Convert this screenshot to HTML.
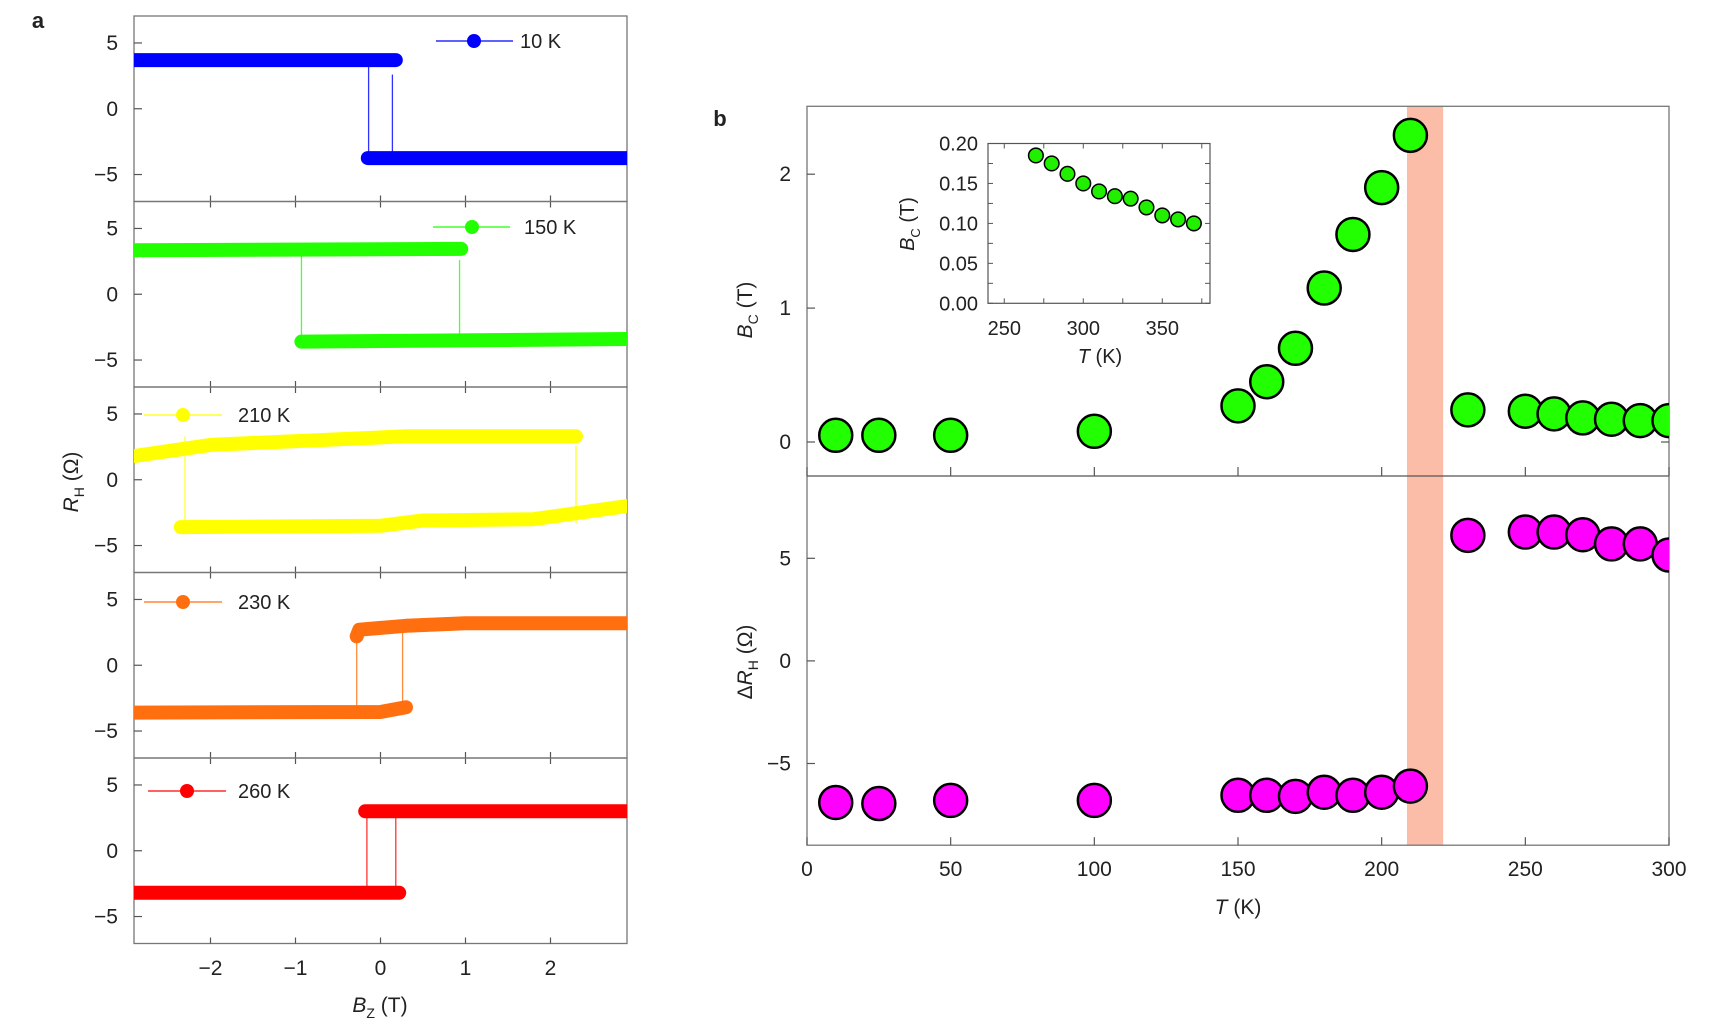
<!DOCTYPE html>
<html><head><meta charset="utf-8"><style>
html,body{margin:0;padding:0;background:#fff}
svg{display:block;font-family:"Liberation Sans",sans-serif}
</style></head><body>
<svg id="fig" width="1716" height="1020" viewBox="0 0 1716 1020" xmlns="http://www.w3.org/2000/svg"></svg>
<script>
// ---------- Panel a data ----------
const panelTemps = ["10 K","150 K","210 K","230 K","260 K"];
const panelColors = ["#0000ff","#22ff00","#ffff00","#ff6f0f","#ff0000"];
const upperBranchB = [[-2.9,0.18],[-2.9,0.95],[-2.9,-2.0,0.3,2.3],[-0.28,-0.25,0.3,1.0,2.9],[-0.18,2.9]];
const upperBranchR = [[3.7,3.7],[3.35,3.45],[1.8,2.65,3.3,3.3],[2.2,2.7,3.0,3.2,3.2],[3.0,3.0]];
const lowerBranchB = [[-0.15,2.9],[-0.93,2.9],[-2.35,0.0,0.5,1.8,2.9],[-2.9,0.0,0.3],[-2.9,0.22]];
const lowerBranchR = [[-3.75,-3.75],[-3.6,-3.4],[-3.6,-3.5,-3.1,-3.0,-2.0],[-3.6,-3.55,-3.2],[-3.2,-3.2]];
const switchFields = [[-0.14,0.14],[-0.93,0.93],[-2.3,2.3],[-0.28,0.26],[-0.16,0.18]];
const aTicksX = [-2,-1,0,1,2];
const aTicksY = [-5,0,5];

// ---------- Panel b data ----------
const bTemps = [10,25,50,100,150,160,170,180,190,200,210,230,250,260,270,280,290,300];
const bcValues = [0.05,0.05,0.05,0.08,0.27,0.45,0.70,1.15,1.55,1.90,2.29,0.24,0.23,0.21,0.18,0.17,0.16,0.16];
const dRhValues = [-6.9,-6.95,-6.8,-6.8,-6.55,-6.55,-6.6,-6.4,-6.55,-6.4,-6.1,6.12,6.28,6.28,6.15,5.7,5.7,5.16];
const bTicksX = [0,50,100,150,200,250,300];
const bcTicks = [0,1,2];
const dRhTicks = [-5,0,5];
const bandRange = [208.8,221.4];

// ---------- Inset data ----------
const insetTemps = [270,280,290,300,310,320,330,340,350,360,370];
const insetBc = [0.185,0.175,0.162,0.150,0.140,0.134,0.131,0.120,0.110,0.105,0.100];
const insetTicksX = [250,300,350];
const insetTicksY = ["0.00","0.05","0.10","0.15","0.20"];

const NS="http://www.w3.org/2000/svg";
const svg=document.getElementById('fig');
function mk(tag,attrs,parent){const e=document.createElementNS(NS,tag);for(const k in attrs)e.setAttribute(k,attrs[k]);(parent||svg).appendChild(e);return e;}
function txt(s,x,y,size,anchor,parent){const t=mk('text',{x:x,y:y,'font-size':size,'text-anchor':anchor||'middle',fill:'#222'},parent);t.textContent=s;return t;}

const bL=807,bR=1669,bTop=106.3,bMid=476,bBot=845.2;

const defs=mk('defs',{});
const cpA=mk('clipPath',{id:'clipA'},defs);mk('rect',{x:134,y:0,width:493,height:1020},cpA);
const cpB=mk('clipPath',{id:'clipB'},defs);mk('rect',{x:bL,y:bTop,width:bR-bL,height:bBot-bTop},cpB);

// ---------- Panel a ----------
const aL=134,aR=627,aTop=16,aH=185.5;
const xA=b=>aL+(b+2.9)/5.8*(aR-aL);
let lab=txt('a',38,28,22,'middle');lab.setAttribute('font-weight','bold');


for(let p=0;p<5;p++){
  const top=aTop+p*aH,bot=top+aH;
  const yA=v=>top+aH/2-v*(aH/2)/7.05;
  const g=mk('g',{});
  
  
  mk('rect',{x:aL,y:top,width:aR-aL,height:aH,fill:'none',stroke:'#777','stroke-width':1.3},g);
  aTicksY.forEach(v=>{mk('line',{x1:aL,x2:aL+8,y1:yA(v),y2:yA(v),stroke:'#555','stroke-width':1.2},g);
    txt(v<0?'\u2212'+(-v):String(v),aL-16,yA(v)+7,21,'end',g);});
  aTicksX.forEach(v=>{mk('line',{x1:xA(v),x2:xA(v),y1:bot-6,y2:bot+(p<4?6:0),stroke:'#555','stroke-width':1.2},g);});
  const cg=mk('g',{'clip-path':'url(#clipA)'},g);
  switchFields[p].forEach((b,i)=>{
    const u=mk('line',{x1:xA(b),x2:xA(b),y1:yA(i==0&&p!=3?3.3:2.6),y2:yA(-3.3),stroke:panelColors[p],'stroke-width':1.3,opacity:0.8},cg);
    
    
  });
  const mkPath=(B,R)=>B.map((b,i)=>(i?'L':'M')+xA(b).toFixed(1)+' '+yA(R[i]).toFixed(1)).join(' ');
  const up=mk('path',{d:mkPath(upperBranchB[p],upperBranchR[p]),fill:'none',stroke:panelColors[p],'stroke-width':14,'stroke-linecap':'round','stroke-linejoin':'round'},cg);
  
  
  const lo=mk('path',{d:mkPath(lowerBranchB[p],lowerBranchR[p]),fill:'none',stroke:panelColors[p],'stroke-width':14,'stroke-linecap':'round','stroke-linejoin':'round'},cg);
  
  
  const legX=[[436,513,474,520],[433,510,472,524],[144,222,183,238],[144,222,183,238],[148,226,187,238]][p];
  const legY=[41,227,415,602,791][p];
  const lg=mk('g',{},g);
  
  
  mk('line',{x1:legX[0],x2:legX[1],y1:legY,y2:legY,stroke:panelColors[p],'stroke-width':1.3},lg);
  mk('circle',{cx:legX[2],cy:legY,r:7,fill:panelColors[p]},lg);
  txt(panelTemps[p],legX[3],legY+7,20,'start',lg);
}
aTicksX.forEach(v=>{const t=txt(v<0?'\u2212'+(-v):String(v),xA(v),975,21,'middle');
  
  });
let t=mk('text',{x:380,y:1012,'font-size':21,'text-anchor':'middle',fill:'#222'});
t.innerHTML='<tspan font-style="italic">B</tspan><tspan font-size="14" dy="6">Z</tspan><tspan dy="-6"> (T)</tspan>';


t=mk('text',{x:0,y:0,'font-size':21,'text-anchor':'middle',fill:'#222',transform:'translate(78,482) rotate(-90)'});
t.innerHTML='<tspan font-style="italic">R</tspan><tspan font-size="14" dy="6">H</tspan><tspan dy="-6"> (\u03A9)</tspan>';



// ---------- Panel b ----------
const xB=T=>bL+T/300*(bR-bL);
const yU=v=>442-v*133.9;
const yD=v=>660.9-v*20.52;
lab=txt('b',720,126,22,'middle');lab.setAttribute('font-weight','bold');


const band=mk('rect',{x:xB(bandRange[0]),y:bTop,width:xB(bandRange[1])-xB(bandRange[0]),height:bBot-bTop,fill:'#fbbca8'});


mk('rect',{x:bL,y:bTop,width:bR-bL,height:bBot-bTop,fill:'none',stroke:'#777','stroke-width':1.3});
mk('line',{x1:bL,x2:bR,y1:bMid,y2:bMid,stroke:'#555','stroke-width':1.3});
bTicksX.forEach(v=>{
  mk('line',{x1:xB(v),x2:xB(v),y1:bBot-8,y2:bBot,stroke:'#555','stroke-width':1.2});
  mk('line',{x1:xB(v),x2:xB(v),y1:bMid-9,y2:bMid,stroke:'#555','stroke-width':1.2});
  const l=txt(String(v),xB(v),876,21,'middle');
  
  
});
bcTicks.forEach(v=>{mk('line',{x1:bL,x2:bL+8,y1:yU(v),y2:yU(v),stroke:'#555','stroke-width':1.2});txt(String(v),bL-16,yU(v)+7,21,'end');});
mk('line',{x1:bR-8,x2:bR,y1:yU(0),y2:yU(0),stroke:'#555','stroke-width':1.2});
dRhTicks.forEach(v=>{mk('line',{x1:bL,x2:bL+8,y1:yD(v),y2:yD(v),stroke:'#555','stroke-width':1.2});txt(v<0?'\u2212'+(-v):String(v),bL-16,yD(v)+7,21,'end');});
const mg=mk('g',{'clip-path':'url(#clipB)'});
bTemps.forEach((T,i)=>{
  const c=mk('circle',{cx:xB(T),cy:yU(bcValues[i]),r:16.5,fill:'#22ff00',stroke:'#000','stroke-width':2.5},mg);
  
  
});
bTemps.forEach((T,i)=>{
  const c=mk('circle',{cx:xB(T),cy:yD(dRhValues[i]),r:16.5,fill:'#ff00ff',stroke:'#000','stroke-width':2.5},mg);
  
  
});
t=mk('text',{x:xB(150),y:914,'font-size':21,'text-anchor':'middle',fill:'#222'});
t.innerHTML='<tspan font-style="italic">T</tspan> (K)';


t=mk('text',{x:0,y:0,'font-size':21,'text-anchor':'middle',fill:'#222',transform:'translate(752,310) rotate(-90)'});
t.innerHTML='<tspan font-style="italic">B</tspan><tspan font-size="14" dy="6">C</tspan><tspan dy="-6"> (T)</tspan>';


t=mk('text',{x:0,y:0,'font-size':21,'text-anchor':'middle',fill:'#222',transform:'translate(752,662) rotate(-90)'});
t.innerHTML='\u0394<tspan font-style="italic">R</tspan><tspan font-size="14" dy="6">H</tspan><tspan dy="-6"> (\u03A9)</tspan>';



// ---------- Inset ----------
const iL=988,iR=1210,iT=143.5,iB=303.3;
const xI=T=>iL+(T-239.7)/(380.2-239.7)*(iR-iL);
const yI=v=>iB-v/0.2*(iB-iT);
const ig=mk('g',{});


mk('rect',{x:iL,y:iT,width:iR-iL,height:iB-iT,fill:'#fff',stroke:'#555','stroke-width':1.2},ig);
for(let k=0;k<=8;k++){const y=yI(k*0.025);
  mk('line',{x1:iL,x2:iL+5,y1:y,y2:y,stroke:'#555'},ig);mk('line',{x1:iR-5,x2:iR,y1:y,y2:y,stroke:'#555'},ig);}
for(let T=250;T<=375;T+=25){mk('line',{x1:xI(T),x2:xI(T),y1:iB-5,y2:iB,stroke:'#555'},ig);mk('line',{x1:xI(T),x2:xI(T),y1:iT,y2:iT+5,stroke:'#555'},ig);}
insetTicksY.forEach(s=>txt(s,iL-10,yI(parseFloat(s))+7,20,'end',ig));
insetTicksX.forEach(v=>txt(String(v),xI(v),335,20,'middle',ig));
insetTemps.forEach((T,i)=>{
  const c=mk('circle',{cx:xI(T),cy:yI(insetBc[i]),r:7.3,fill:'#22ee00',stroke:'#000','stroke-width':1.5},ig);
  
  
});
t=mk('text',{x:1100,y:363,'font-size':20,'text-anchor':'middle',fill:'#222'},ig);
t.innerHTML='<tspan font-style="italic">T</tspan> (K)';


t=mk('text',{x:0,y:0,'font-size':20,'text-anchor':'middle',fill:'#222',transform:'translate(914,224) rotate(-90)'},ig);
t.innerHTML='<tspan font-style="italic">B</tspan><tspan font-size="13" dy="6">C</tspan><tspan dy="-6"> (T)</tspan>';


</script>
</body></html>
